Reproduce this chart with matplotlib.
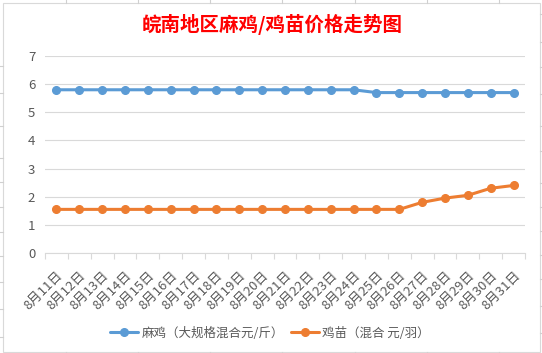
import matplotlib
matplotlib.use("Agg")
import matplotlib.pyplot as plt
from matplotlib.lines import Line2D
from matplotlib.patches import Rectangle

plt.rcParams['font.family'] = ['Noto Sans CJK SC', 'DejaVu Sans']

dates = ["8月11日", "8月12日", "8月13日", "8月14日", "8月15日", "8月16日", "8月17日",
         "8月18日", "8月19日", "8月20日", "8月21日", "8月22日", "8月23日", "8月24日",
         "8月25日", "8月26日", "8月27日", "8月28日", "8月29日", "8月30日", "8月31日"]
maji = [5.8, 5.8, 5.8, 5.8, 5.8, 5.8, 5.8, 5.8, 5.8, 5.8, 5.8, 5.8, 5.8, 5.8,
        5.7, 5.7, 5.7, 5.7, 5.7, 5.7, 5.7]
jimiao = [1.55, 1.55, 1.55, 1.55, 1.55, 1.55, 1.55, 1.55, 1.55, 1.55, 1.55, 1.55, 1.55, 1.55,
          1.55, 1.55, 1.8, 1.95, 2.05, 2.3, 2.4]
series_names = ["麻鸡（大规格混合元/斤）", "鸡苗（混合 元/羽）"]
title = "皖南地区麻鸡/鸡苗价格走势图"
yticks = [0, 1, 2, 3, 4, 5, 6, 7]

W, H = 542, 353
fig = plt.figure(figsize=(W / 100, H / 100), dpi=100)
fig.patch.set_facecolor("white")

# chart border and spreadsheet grid stubs
fig.add_artist(Rectangle((3 / W, 1 - 352 / H), 537 / W, 349 / H, transform=fig.transFigure,
                         fill=False, edgecolor="#d9d9d9", linewidth=0.8))
for x in [66, 138, 210, 282, 355, 427, 499]:
    fig.add_artist(Line2D([x / W, x / W], [1, 1 - 3 / H], transform=fig.transFigure,
                          color="#d0d0d0", linewidth=0.8))
    fig.add_artist(Line2D([x / W, x / W], [0, 1 / H], transform=fig.transFigure,
                          color="#d0d0d0", linewidth=0.8))
for y in [66, 93, 126, 158, 182, 207, 232, 256, 282, 309, 337]:
    fig.add_artist(Line2D([0, 3 / W], [1 - y / H, 1 - y / H], transform=fig.transFigure,
                          color="#d0d0d0", linewidth=0.8))
for y in [14, 42, 67, 94, 126, 151, 183, 207, 231, 255, 279, 306, 333]:
    fig.add_artist(Line2D([540 / W, 1], [1 - y / H, 1 - y / H], transform=fig.transFigure,
                          color="#d0d0d0", linewidth=0.8))

ax = fig.add_axes([45 / W, 1 - 253 / H, 480 / W, 197 / H])
x = list(range(len(dates)))
ax.plot(x, maji, color="#5B9BD5", linewidth=2.2, marker="o", markersize=5.5,
        label=series_names[0], solid_capstyle="round")
ax.plot(x, jimiao, color="#ED7D31", linewidth=2.2, marker="o", markersize=5.5,
        label=series_names[1], solid_capstyle="round")

ax.set_xlim(-0.5, len(dates) - 0.5)
ax.set_ylim(0, 7)
ax.set_yticks(yticks)
ax.set_yticklabels([str(v) for v in yticks])
ax.yaxis.grid(True, color="#d9d9d9", linewidth=0.8)
ax.set_axisbelow(True)
for s in ["left", "top", "right"]:
    ax.spines[s].set_visible(False)
ax.spines["bottom"].set_color("#d9d9d9")
ax.spines["bottom"].set_linewidth(0.8)
ax.tick_params(axis="y", length=0, pad=7, labelsize=9.5, labelcolor="#595959")

ax.set_xticks(x)
ax.set_xticklabels(dates, rotation=45, ha="right", va="top", rotation_mode="anchor")
ax.set_xticks([i - 0.5 for i in range(len(dates) + 1)], minor=True)
ax.tick_params(axis="x", which="major", length=0, pad=11.5, labelsize=9.5, labelcolor="#595959")
ax.tick_params(axis="x", which="minor", length=4, color="#d9d9d9", width=0.8)

fig.text(272 / W, 1 - 24 / H, title, color="#FF0000", fontsize=14, fontweight="bold",
         ha="center", va="center")

leg = fig.legend(loc="center", bbox_to_anchor=(270 / W, 1 - 333 / H), ncol=2, frameon=False,
                 fontsize=9, handlelength=2.2, columnspacing=0.6, handletextpad=0.3)
for t in leg.get_texts():
    t.set_color("#595959")

fig.savefig("out.png", dpi=100, facecolor="white")
